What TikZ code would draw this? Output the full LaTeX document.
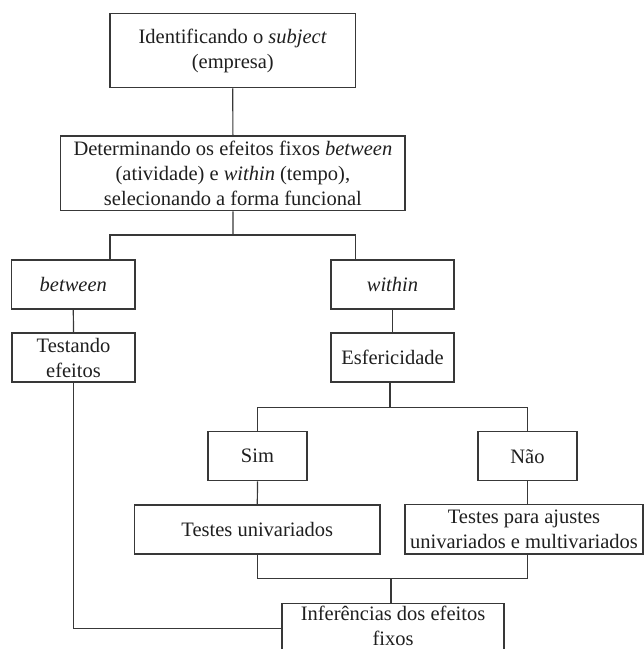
\documentclass[tikz,border=0pt]{standalone}
\usepackage{fontspec}
\setmainfont{Liberation Serif}
\begin{document}
\begin{tikzpicture}[x=1pt,y=-1pt,
  box/.style={draw=black!78, line width=1.2pt, inner sep=0pt, align=center, text=black!88, font=\fontsize{20.5}{25}\selectfont},
  plain/.style={draw=none, inner sep=0pt, align=center, text=black!88, font=\fontsize{20.5}{25}\selectfont},
  conn/.style={draw=black!78, line width=1.2pt}]
\clip (0,0) rectangle (644,649);
\node[box, minimum width=245.6pt, minimum height=74pt] (b1) at (232.8,50.7) {Identificando o \textit{subject}\\(empresa)};
\node[box, minimum width=344.2pt, minimum height=74.7pt] (b2) at (232.9,173.3) {Determinando os efeitos fixos \textit{between}\\(atividade) e \textit{within} (tempo),\\selecionando a forma funcional};
\node[box, minimum width=123.5pt, minimum height=49pt] (between) at (73.3,284.5) {\textit{between}};
\node[box, minimum width=123pt, minimum height=49pt] (within) at (392.5,284.5) {\textit{within}};
\node[box, minimum width=123pt, minimum height=49pt] (testando) at (73.5,357.5) {Testando\\efeitos};
\node[box, minimum width=123pt, minimum height=49pt] (esfer) at (392.5,357.5) {Esfericidade};
\node[box, minimum width=99pt, minimum height=49pt] (sim) at (257.5,456.2) {Sim};
\node[box, minimum width=99pt, minimum height=49pt] (nao) at (527.5,456.2) {Não};
\node[box, minimum width=245.3pt, minimum height=49pt] (tuniv) at (257.3,529.5) {Testes univariados};
\node[box, minimum width=238pt, minimum height=49.5pt] (tpara) at (524,529.2) {Testes para ajustes\\univariados e multivariados};
\node[box, minimum width=222pt, minimum height=50pt] (infer) at (393,628.3) {};
\node[plain] (infertext) at (393,626) {Inferências dos efeitos\\fixos};
\coordinate (j1) at (233,235);
\coordinate (l1) at (110,235);
\coordinate (r1) at (355.6,235);
\coordinate (j2) at (390,407.3);
\coordinate (j3) at (391,578.3);
\draw[conn] (b1.south) -- (b2.north);
\draw[conn] (b2.south) -- (j1);
\draw[conn] (l1 |- between.north) -- (l1) -- (r1) -- (r1 |- within.north);
\draw[conn] (between.south) -- (testando.north);
\draw[conn] (within.south) -- (esfer.north);
\draw[conn] (esfer.south -| j2) -- (j2);
\draw[conn] (sim.north) |- (j2) -| (nao.north);
\draw[conn] (sim.south) -- (tuniv.north);
\draw[conn] (nao.south) -- (nao.south |- tpara.north);
\draw[conn] (tuniv.south) |- (j3) -| (nao.south |- tpara.south);
\draw[conn] (j3) -- (j3 |- infer.north);
\draw[conn] (testando.south) |- (infer.west);
\end{tikzpicture}
\end{document}
